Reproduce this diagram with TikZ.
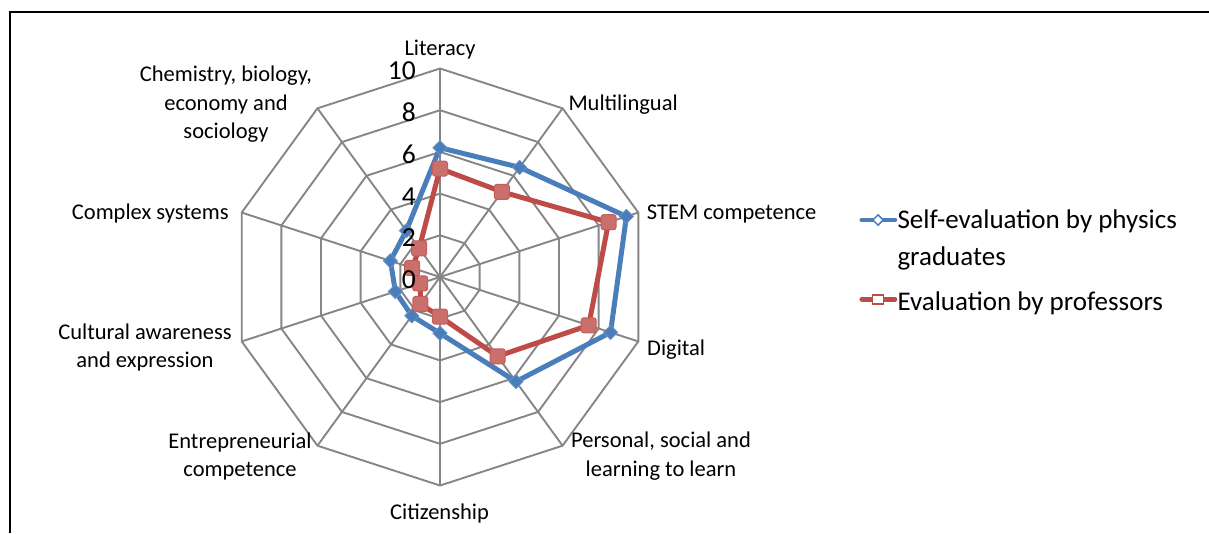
\documentclass[tikz,border=0pt]{standalone}
\usepackage{fontspec}
\setmainfont{Carlito}
\usetikzlibrary{shapes.geometric}
\definecolor{gridgray}{RGB}{134,134,134}
\definecolor{serblue}{RGB}{74,126,187}
\definecolor{serred}{RGB}{190,75,72}
\begin{document}
\begin{tikzpicture}[x=1pt,y=-1pt,
  lbl/.style={font=\fontsize{22.5}{28.3}\selectfont, inner sep=0pt, align=center},
  tick/.style={font=\fontsize{27.5}{32}\selectfont, inner sep=0pt, anchor=base east},
  leg/.style={font=\fontsize{27}{36.6}\selectfont, inner sep=0pt, align=left},
  gridline/.style={draw=gridgray, line width=1.9pt},
  blueline/.style={draw=serblue, line width=5pt, line join=round},
  redline/.style={draw=serred, line width=5pt, line join=round},
  bmark/.style={diamond, fill=serblue, draw=serblue!85!white, line width=0.8pt, minimum size=14.5pt, inner sep=0pt},
  rmark/.style={rectangle, fill=serred!80!white, draw=serred!90!white, line width=1pt, minimum size=15pt, inner sep=0pt, rounded corners=2.5pt}
]
\useasboundingbox (0,0) rectangle (1209,533);
\coordinate (fa) at (10,533);
\coordinate (fb) at (10,12.3);
\coordinate (fc) at (1209,12.3);
\draw[line width=1.8pt] (fa) -- (fb) -- (fc);

\begin{scope}[shift={(440,277)}, yscale=-1]
  \coordinate (ctr) at (0,0);
  \foreach \k in {1,...,5} {
    \draw[gridline] (90:{\k*41.7}) \foreach \i in {1,...,9} { -- ({90-36*\i}:{\k*41.7}) } -- cycle;
  }
  \foreach \i in {0,...,9} \draw[gridline] (ctr) -- ({90-36*\i}:208.5);
  % self-evaluation by physics graduates
  \foreach \v [count=\i from 0] in {6.2,6.5,9.4,8.6,6.2,2.7,2.3,2.25,2.5,2.75}
    \coordinate (b\i) at ({90-36*\i}:{\v*20.85});
  \draw[blueline] (b0) -- (b1) -- (b2) -- (b3) -- (b4) -- (b5) -- (b6) -- (b7) -- (b8) -- (b9) -- cycle;
  \foreach \i in {0,...,9} \node[bmark] (bm\i) at (b\i) {};
  % evaluation by professors
  \foreach \v [count=\i from 0] in {5.2,5.05,8.5,7.5,4.7,1.9,1.6,1.0,1.4,1.7}
    \coordinate (r\i) at ({90-36*\i}:{\v*20.85});
  \draw[redline] (r0) -- (r1) -- (r2) -- (r3) -- (r4) -- (r5) -- (r6) -- (r7) -- (r8) -- (r9) -- cycle;
  \foreach \i in {0,...,9} \node[rmark] (rm\i) at (r\i) {};
\end{scope}

% axis ticks
\foreach \t [count=\k from 0] in {0,2,4,6,8,10}
  \node[tick] (t\t) at (416, {276.7-41.7*\k+11.7}) {\t};

% category labels
\node[lbl, anchor=base west] (lit) at (404.3,55.3) {Literacy};
\node[lbl, anchor=base west] (multi) at (568.3,110) {Multilingual};
\node[lbl, anchor=base west] (stem) at (646.7,219.3) {STEM competence};
\node[lbl, anchor=base west] (dig) at (647,355) {Digital};
\node[lbl] (pers) at (661,456) {Personal, social and\\learning to learn};
\node[lbl, anchor=base west] (citi) at (390,519) {Citizenship};
\node[lbl] (entr) at (240,456.3) {Entrepreneurial\\competence};
\node[lbl] (cult) at (145,347.5) {Cultural awareness\\and expression};
\node[lbl, anchor=base west] (cplx) at (71.7,219.6) {Complex systems};
\node[lbl] (chem) at (226,104.3) {Chemistry, biology,\\economy and\\sociology};

% legend
\coordinate (lb1) at (861.7,220);
\coordinate (lb2) at (895,220);
\draw[serblue, line width=4.5pt, line cap=round] (lb1) -- (lb2);
\node[diamond, draw=serblue, fill=white, line width=1.5pt, minimum size=11pt, inner sep=0pt] (lbm) at (878,220) {};
\node[leg, anchor=west] (legb) at (897.3,240) {Self-evaluation by physics\\graduates};
\coordinate (lr1) at (861.7,299.3);
\coordinate (lr2) at (895,299.3);
\draw[serred, line width=4.5pt, line cap=round] (lr1) -- (lr2);
\node[rectangle, draw=serred, fill=white, line width=1.5pt, minimum width=11pt, minimum height=9pt, inner sep=0pt] (lrm) at (878,299.3) {};
\node[leg, anchor=base west] (legr) at (897.3,310.4) {Evaluation by professors};
\end{tikzpicture}
\end{document}
